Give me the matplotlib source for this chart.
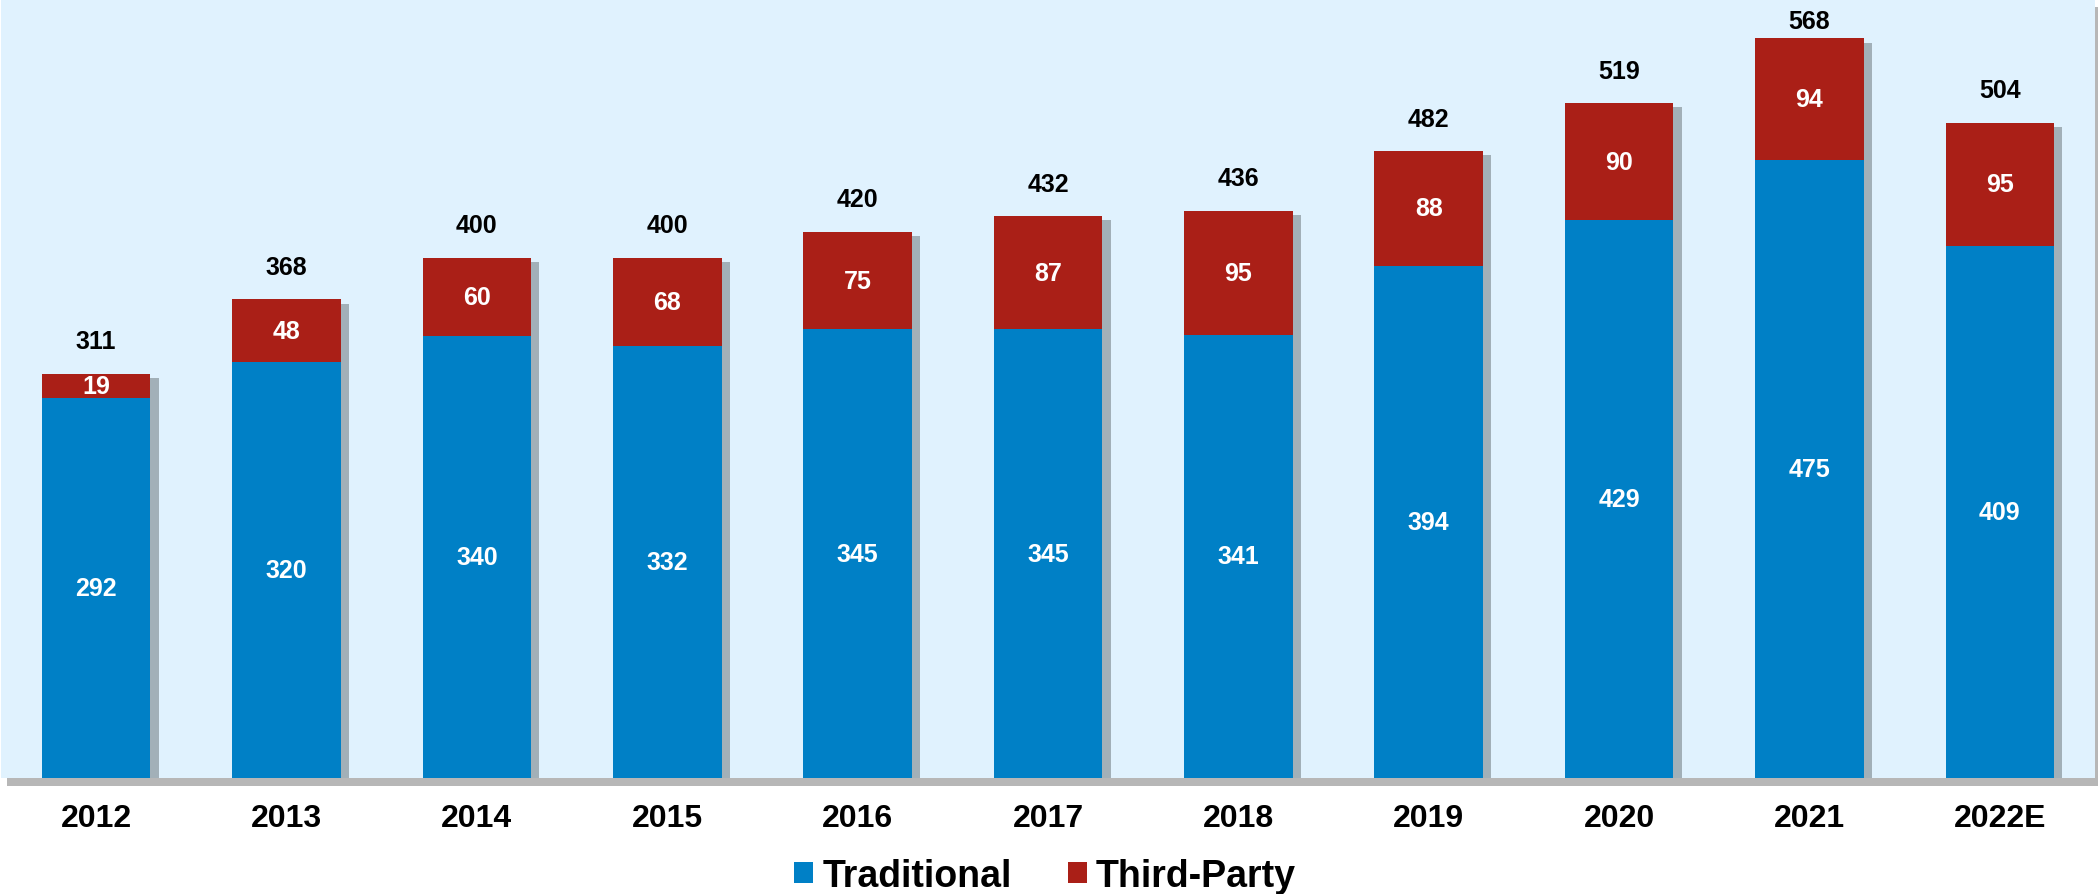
import matplotlib
matplotlib.use("Agg")
import matplotlib.pyplot as plt
import matplotlib.patheffects as pe
import numpy as np

years = ["2012", "2013", "2014", "2015", "2016", "2017", "2018", "2019", "2020", "2021", "2022E"]
traditional = [292, 320, 340, 332, 345, 345, 341, 394, 429, 475, 409]
third_party = [19, 48, 60, 68, 75, 87, 95, 88, 90, 94, 95]
totals = [311, 368, 400, 400, 420, 432, 436, 482, 519, 568, 504]

blue = "#0080C6"
red = "#AA1F17"
bg = "#E0F2FE"

plt.rcParams['font.family'] = ['Liberation Sans', 'DejaVu Sans']
plt.rcParams['font.weight'] = 'bold'

fig = plt.figure(figsize=(20.98, 8.95), dpi=100)
ax = fig.add_axes([1 / 2098, 116 / 895, 2094 / 2098, 779 / 895])
ax.set_facecolor(bg)
ax.patch.set_path_effects([pe.SimplePatchShadow(offset=(4, -6), shadow_rgbFace="#888888", alpha=0.6), pe.Normal()])

x = np.arange(len(years))
# shadow behind whole stack only
ax.bar(x, totals, width=0.57, color="none",
       path_effects=[pe.SimplePatchShadow(offset=(6, -3), shadow_rgbFace="#6f7a80", alpha=0.55)])
b1 = ax.bar(x, traditional, width=0.57, color=blue, label="Traditional")
b2 = ax.bar(x, third_party, width=0.57, bottom=traditional, color=red, label="Third-Party")

ax.bar_label(b1, label_type='center', color='white', fontsize=18, fontweight='bold')
ax.bar_label(b2, label_type='center', color='white', fontsize=18, fontweight='bold')

for xi, t in zip(x, totals):
    ax.text(xi, min(t + 25, 582), str(t), ha='center', va='center', fontsize=18, fontweight='bold', color='black')

ax.set_xlim(-0.5, 10.5)
ax.set_ylim(0, 599)
ax.set_yticks([])
ax.set_xticks(x)
ax.set_xticklabels(years, fontsize=23, fontweight='bold')
ax.tick_params(axis='x', length=0, pad=18)
for s in ax.spines.values():
    s.set_visible(False)

fig.legend(handles=[b1, b2], loc='center', bbox_to_anchor=(1045 / 2098, 1 - 877 / 895),
           ncol=2, frameon=False, prop={'size': 27, 'weight': 'bold'},
           handlelength=0.5, handleheight=0.5, handletextpad=0.25, columnspacing=1.5,
           borderpad=0, borderaxespad=0)

fig.savefig("out.png", dpi=100)
